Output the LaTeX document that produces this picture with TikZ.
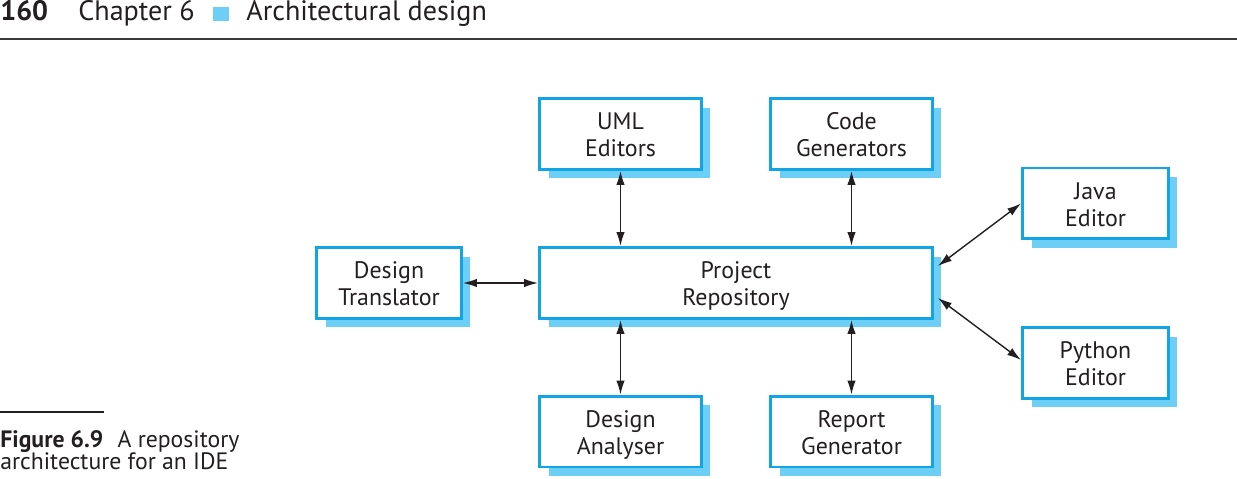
\documentclass[tikz,border=0pt]{standalone}
\usepackage{fontspec}
\setmainfont{PT Sans}
\usetikzlibrary{arrows.meta,shadows,positioning}
\definecolor{ink}{HTML}{231F20}
\definecolor{rulegray}{HTML}{3A3A3A}
\definecolor{boxblue}{HTML}{12A5E6}
\definecolor{shadeblue}{HTML}{6DCFF6}
\newcommand{\topstrut}{\rule{0pt}{15.3pt}}
\tikzset{
  biarr/.style={{Latex[length=2.8mm,width=1.7mm]}-{Latex[length=2.8mm,width=1.7mm]},line width=0.8pt,color=ink},
  toolbox/.style={draw=boxblue,fill=white,line width=1.7pt,align=center,inner sep=0pt,
    minimum height=1.42cm,text=ink,font=\fontsize{13.6}{15.4}\selectfont,
    execute at end node=\strut,
    general shadow={fill=shadeblue,shadow xshift=0.18cm,shadow yshift=-0.18cm}},
  hdrtext/.style={anchor=base west,inner sep=0pt,text=ink,font=\fontsize{16}{18}\selectfont},
  captext/.style={anchor=base west,inner sep=0pt,text=ink,font=\fontsize{13.5}{15}\selectfont}
}
\begin{document}
\begin{tikzpicture}[x=0.02cm,y=-0.02cm]
  \useasboundingbox (0,0) rectangle (1237,479);
  % running head
  \node[hdrtext] (pagenum) at (0,21) {\bfseries 160};
  \node[hdrtext] (chapter) at (78,21) {Chapter 6};
  \fill[shadeblue] (213,7) rectangle (229,21.5);
  \node[hdrtext] (chtitle) at (246,21) {Architectural design};
  \draw[rulegray,line width=1.1pt] (0,39) -- (1237,39);

  % tools round the repository
  \node[toolbox,minimum width=3.24cm] (uml) at (620.5,134) {\topstrut UML\\Editors};
  \node[toolbox,minimum width=3.24cm] (codegen) at (851.5,134) {\topstrut Code\\Generators};
  \node[toolbox,minimum width=2.92cm] (java) at (1095.5,203.5) {\topstrut Java\\Editor};
  \node[toolbox,minimum width=2.90cm] (translator) at (389,283) {\topstrut Design\\Translator};
  \node[toolbox,minimum width=7.86cm] (repo) at (736,283) {\topstrut Project\\Repository};
  \node[toolbox,minimum width=2.92cm] (python) at (1095.5,363) {\topstrut Python\\Editor};
  \node[toolbox,minimum width=3.24cm] (analyser) at (620.5,431.5) {\topstrut Design\\Analyser};
  \node[toolbox,minimum width=3.24cm] (report) at (851.5,431.5) {\topstrut Report\\Generator};

  \draw[biarr] (uml.south) -- (uml.south |- repo.north);
  \draw[biarr] (codegen.south) -- (codegen.south |- repo.north);
  \draw[biarr] (analyser.north) -- (analyser.north |- repo.south);
  \draw[biarr] (report.north) -- (report.north |- repo.south);
  \draw[biarr] (translator.east) -- (repo.west);
  \draw[biarr] ([xshift=0.08cm,yshift=0.34cm]repo.east) -- (java.west);
  \draw[biarr] ([xshift=0.08cm,yshift=-0.3cm]repo.east) -- ([yshift=0.06cm]python.west);

  % caption
  \draw[ink,line width=0.6pt] (0,412) -- (104,412);
  \node[captext] (capline1) at (0,447) {\textbf{Figure 6.9}\hspace{0.6em}A repository};
  \node[captext] (capline2) at (0,469) {architecture for an IDE};
\end{tikzpicture}
\end{document}
